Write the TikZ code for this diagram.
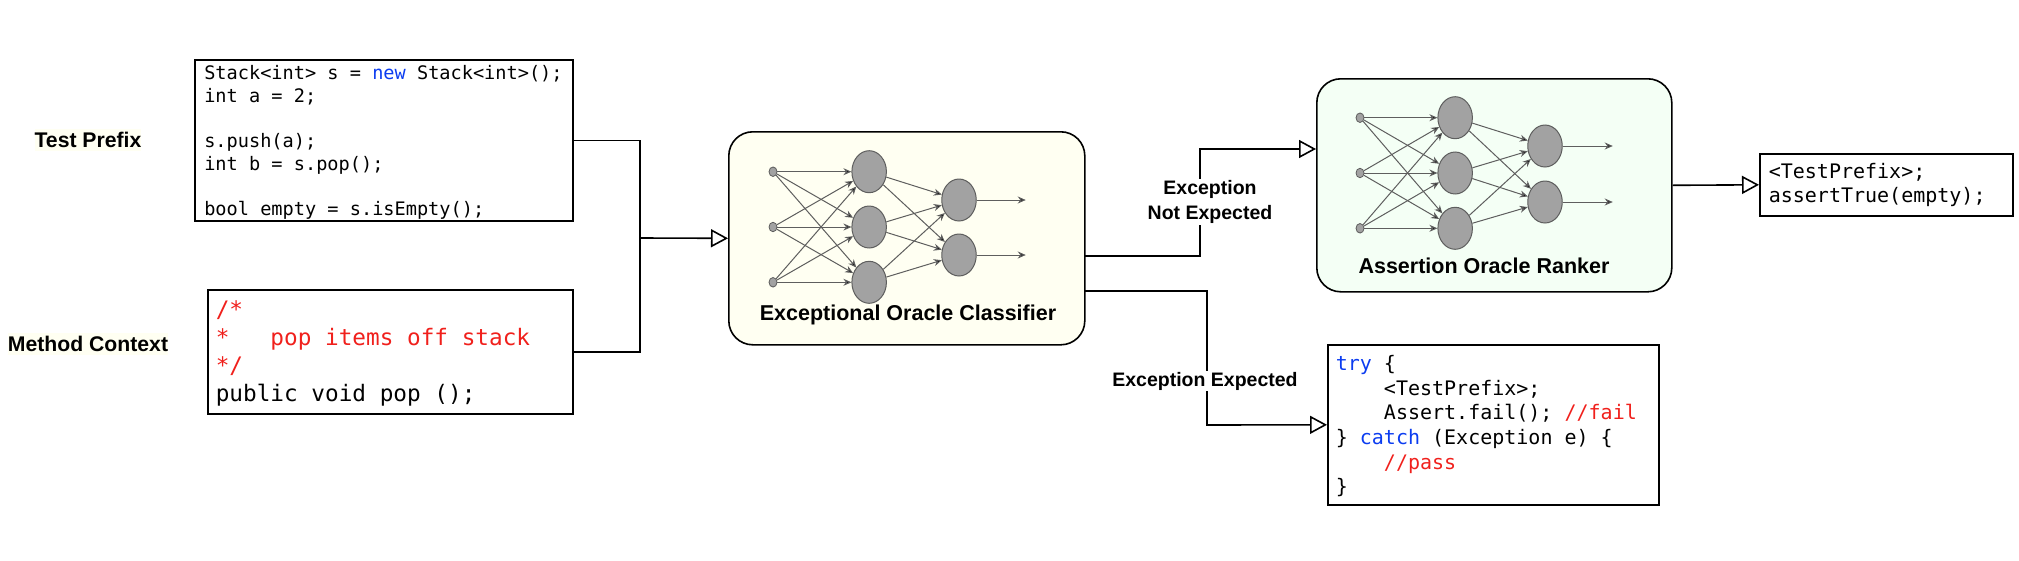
\documentclass[tikz,border=0pt]{standalone}
\usepackage{fontspec}
\setmainfont{Liberation Sans}
\setmonofont{DejaVu Sans Mono}
\usetikzlibrary{positioning, arrows.meta, shapes.geometric}
\definecolor{kwblue}{HTML}{0B3CF0}
\definecolor{cmtred}{HTML}{F0201C}
\definecolor{clfback}{HTML}{FFFFF2}
\definecolor{rankback}{HTML}{F4FFF5}
\definecolor{unitgray}{HTML}{A2A2A2}
\definecolor{unitline}{HTML}{5E5E5E}
\tikzset{
	code box/.style={draw, line width=1.6pt, inner ysep=0pt, anchor=north west, align=flush left},
	block/.style={draw, line width=1.6pt, rounded corners=24pt, anchor=north west},
	block label/.style={font=\fontsize{21.5pt}{24pt}\selectfont\bfseries},
	side label/.style={font=\fontsize{21.2pt}{24pt}\selectfont\bfseries, fill=clfback, inner xsep=0pt, inner ysep=3pt},
	wire label/.style={font=\fontsize{19.5pt}{25pt}\selectfont\bfseries, fill=white, inner sep=1pt, align=center},
	input unit/.style={ellipse, draw=unitline, fill=unitgray, line width=.8pt, minimum width=8pt, minimum height=9.5pt, inner sep=0pt},
	hidden unit/.style={ellipse, draw=unitline, fill=unitgray, line width=1pt, minimum width=34.5pt, minimum height=42pt, inner sep=0pt},
	net edge/.style={draw=unitline, line width=1pt, -{Stealth[length=8pt, width=7pt]}},
	wire/.style={draw, line width=1.6pt},
	wire arrow/.style={wire, -{Triangle[open, fill=white, length=17pt, width=18pt, line width=1.6pt]}},
}

\begin{document}
\begin{tikzpicture}[x=1pt, y=-1pt]
	\useasboundingbox (0,0) rectangle (2019,560);
	% Blocks
	\node[block, fill=clfback, minimum width=356pt, minimum height=213pt] (clf) at (728,131) {};
	\node[block, fill=rankback, minimum width=355pt, minimum height=213pt] (rank) at (1316,78) {};
	% Classifier net
	\node[input unit] (ci2) at (773,227) {};
	\node[input unit] [above = 45pt of ci2] (ci1) {};
	\node[input unit] [below = 45pt of ci2] (ci3) {};
	\node[hidden unit] [right = 74pt of ci1] (ch1) {};
	\node[hidden unit] [right = 74pt of ci2] (ch2) {};
	\node[hidden unit] [right = 74pt of ci3] (ch3) {};
	\node[hidden unit] (co1) at (959,200) {};
	\node[hidden unit] [below = 12pt of co1] (co2) {};
	\coordinate [right = 49pt of co1] (cend1);
	\coordinate [right = 49pt of co2] (cend2);
	\path[net edge]
	(ci1) edge (ch1)
	(ci1) edge (ch2)
	(ci1) edge (ch3)
	(ci2) edge (ch1)
	(ci2) edge (ch2)
	(ci2) edge (ch3)
	(ci3) edge (ch1)
	(ci3) edge (ch2)
	(ci3) edge (ch3)
	(ch1) edge (co1)
	(ch1) edge (co2)
	(ch2) edge (co1)
	(ch2) edge (co2)
	(ch3) edge (co1)
	(ch3) edge (co2)
	(co1) edge (cend1)
	(co2) edge (cend2);
	% Ranker net
	\node[input unit] (ri2) at (1360,173) {};
	\node[input unit] [above = 45pt of ri2] (ri1) {};
	\node[input unit] [below = 45pt of ri2] (ri3) {};
	\node[hidden unit] [right = 73pt of ri1] (rh1) {};
	\node[hidden unit] [right = 73pt of ri2] (rh2) {};
	\node[hidden unit] [right = 73pt of ri3] (rh3) {};
	\node[hidden unit] (ro1) at (1545,146) {};
	\node[hidden unit] [below = 13pt of ro1] (ro2) {};
	\coordinate [right = 50pt of ro1] (rend1);
	\coordinate [right = 50pt of ro2] (rend2);
	\path[net edge]
	(ri1) edge (rh1)
	(ri1) edge (rh2)
	(ri1) edge (rh3)
	(ri2) edge (rh1)
	(ri2) edge (rh2)
	(ri2) edge (rh3)
	(ri3) edge (rh1)
	(ri3) edge (rh2)
	(ri3) edge (rh3)
	(rh1) edge (ro1)
	(rh1) edge (ro2)
	(rh2) edge (ro1)
	(rh2) edge (ro2)
	(rh3) edge (ro1)
	(rh3) edge (ro2)
	(ro1) edge (rend1)
	(ro2) edge (rend2);
	% Labels
	\node[block label] (clflabel) at (908,315) {Exceptional Oracle Classifier};
	\node[block label] (ranklabel) at (1484,266) {Assertion Oracle Ranker};
	\node[side label] (prefixlabel) at (88,140) {Test Prefix};
	\node[side label] (contextlabel) at (88,344) {Method Context};
	% Code
	\node[code box, font=\fontsize{18.6pt}{22.7pt}\selectfont\ttfamily, minimum width=378pt, minimum height=161pt, text width=359pt, inner xsep=9.5pt] (prefix) at (194,59) {
		\rule{0pt}{18.5pt}Stack<int> s = \textcolor{kwblue}{new} Stack<int>();\\
		int a = 2;\\
		\mbox{}\\
		s.push(a);\\
		int b = s.pop();\\
		\mbox{}\\
		bool empty = s.isEmpty();};
	\node[code box, font=\fontsize{22.7pt}{28pt}\selectfont\ttfamily, minimum width=365pt, minimum height=124pt, text width=349pt, inner xsep=8pt] (context) at (207,289) {
		\rule{0pt}{20pt}\textcolor{cmtred}{/*}\\
		\textcolor{cmtred}{*~~~pop items off stack}\\
		\textcolor{cmtred}{*/}\\
		public void pop ();};
	\node[code box, font=\fontsize{20pt}{24pt}\selectfont\ttfamily, minimum width=253pt, minimum height=62pt, text width=235pt, inner xsep=9pt] (assert) at (1759,153) {
		<TestPrefix>;\\
		assertTrue(empty);};
	\node[code box, font=\fontsize{20pt}{24.6pt}\selectfont\ttfamily, minimum width=331pt, minimum height=160pt, text width=315pt, inner xsep=8pt] (trycatch) at (1327,344) {
		\rule{0pt}{18pt}\textcolor{kwblue}{try} \{\\
		~~~~<TestPrefix>;\\
		~~~~Assert.fail(); \textcolor{cmtred}{//fail}\\
		\} \textcolor{kwblue}{catch} (Exception e) \{\\
		~~~~\textcolor{cmtred}{//pass}\\
		\}};
	% Paths
	\coordinate (join) at (640,238);
	\coordinate (clfout1) at (1084,256);
	\coordinate (clfout2) at (1084,291);
	\coordinate (turn1) at (1200,149);
	\coordinate (turn2) at (1207,425);
	\coordinate (rankin) at (1316,149);
	\path[wire] (prefix.east) -| (join);
	\path[wire] (context.east) -| (join);
	\path[wire arrow] (join) -- (clf.west);
	\path[wire arrow] (clfout1) -| (turn1) -- (rankin);
	\path[wire arrow] (clfout2) -| (turn2) -- (trycatch.west);
	\path[wire arrow] (rank.east) -- (assert.west);
	\node[wire label] (notexplabel) at (1210,202) {Exception\\Not Expected};
	\node[wire label] (explabel) at (1205,381) {Exception Expected};
\end{tikzpicture}
\end{document}
